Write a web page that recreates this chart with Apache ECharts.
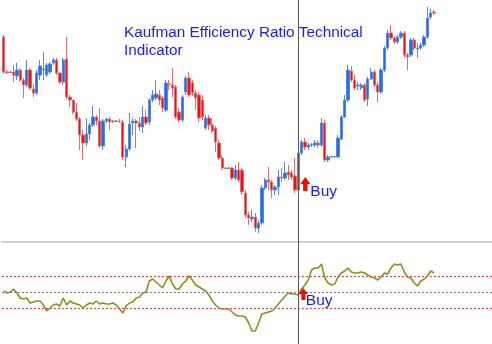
<!DOCTYPE html>
<html>
<head>
<meta charset="utf-8">
<script src="https://cdn.jsdelivr.net/npm/echarts@6/dist/echarts.min.js"></script>
<style>
  html, body { margin: 0; padding: 0; background: #fff; }
  #chart { width: 492px; height: 344px; }
</style>
</head>
<body>
<div id="chart"></div>
<script>
// K线数据 [open, close, low, high]
const candles = [
  [213,178,176,215],[178,177.5,176,180],[177.5,178,177,179],[178,175,168,185],[174,180,170,187],
  [180,170,168,182],[170,165,152,172],[165,180,163,190],[180,162,160,182],[161,157,153,166],
  [157,177,155,180],[175,184,170,190],[180,181,170,198],[175,185,173,187],[178,186,176,188],
  [187,190,185,192],[190,177,175,192],[177,168,166,178],[168,190,165,192],[191,153,151,213],
  [153,150,143,155],[150,138,136,150],[138,131,129,147],[131,115,100,133],[115,107,90,120],
  [107,116,104,132],[116,125,110,127],[125,133,123,144],[133,129,125,135],[129,104,102,142],
  [104,129,100,131],[129,131,127,132],[131,128,120,133],[129,128.5,127,130],[128.5,129,128,130],
  [129,128.8,127,131],[128,93,90,130],[93,101,83,105],[101,126,99,137],[127,129,115,132],
  [129,127,102,131],[127,123,119,133],[123,133,117,144],[133,127,125,140],[128,150,125,152],
  [150,155,148,160],[152,156,150,170],[155,150,145,160],[152,142,138,154],[140,167,138,170],
  [166,165.5,160,170],[165,162,153,182],[163,133,131,165],[138,130,128,142],[130,153,128,155],
  [158,172,155,174],[172,155,153,178],[167,157,154,170],[157,152,140,160],[155,132,128,158],
  [150,133,130,155],[122,132,120,135],[132,125,120,135],[125,119,117,132],[122,108,98,124],
  [107,92,90,110],[92,82,80,95],[82,81.5,81,83],[81.5,82,81,83],[82,72,70,83],
  [72,80,70,85],[80,70,68,88],[80,58,55,82],[57,35,32,60],[35,32,25,38],
  [31,33,28,40],[33,22,18,37],[22,27,17,30],[27,62,25,65],[62,70,60,72],
  [70,68,60,83],[68,60,52,70],[60,63,55,65],[63,73,55,80],[73,72,68,82],
  [72,77,70,88],[78,75,70,85],[77,73,70,80],[74,60,57,92],[60,97,45,100],
  [97,108,95,110],[108,103,100,112],[103,105,100,107],[105,105.5,103,107],[105,107,103,110],
  [107,105,102,110],[105,127,103,132],[127,90,88,130],[90,93,88,95],[93,93.5,92,94],
  [93.5,93,92,94],[93,112,92,115],[111,133,110,135],[133,150,132,155],[150,180,148,185],
  [179,170,168,184],[170,162,160,175],[164,165,160,168],[162,165,160,167],[165,150,148,167],
  [151,171,144,173],[171,178,170,182],[178,165,163,180],[165,158,148,168],[158,180,156,182],
  [180,202,178,204],[202,217,200,220],[217,212,210,225],[212,208,206,214],[208,213,206,215],
  [213,217,211,219],[217,195,193,219],[195,193,180,197],[195,210,193,212],[210,202,200,212],
  [201,202,192,207],[202,205,200,207],[205,213,203,215],[213,232,211,243],[233,237,231,241],
  [238,237,235,240]
];

// Kaufman 指标线
const erValues = [
  0.02,-0.02,0,0.06,-0.02,-0.12,-0.14,-0.12,-0.22,-0.20,
  -0.18,-0.18,-0.26,-0.38,-0.32,-0.26,-0.24,-0.28,-0.12,-0.26,
  -0.18,-0.22,-0.24,-0.26,-0.32,-0.26,-0.22,-0.24,-0.18,-0.24,
  -0.22,-0.24,-0.24,-0.22,-0.26,-0.34,-0.42,-0.28,-0.22,-0.20,
  -0.12,-0.10,-0.02,0,0.22,0.26,0.20,0.14,0.08,0.22,
  0.32,0.16,0.06,0.06,0.16,0.22,0.32,0.24,0.14,0.10,
  0.06,0.02,-0.06,-0.18,-0.26,-0.32,-0.34,-0.34,-0.34,-0.40,
  -0.46,-0.48,-0.48,-0.50,-0.62,-0.78,-0.78,-0.62,-0.44,-0.42,
  -0.40,-0.38,-0.32,-0.24,-0.16,-0.08,-0.02,-0.04,-0.04,-0.06,
  0.06,0.14,0.24,0.44,0.48,0.48,0.56,0.28,0.18,0.14,
  0.16,0.30,0.38,0.42,0.48,0.40,0.38,0.38,0.40,0.38,
  0.34,0.30,0.28,0.24,0.30,0.38,0.36,0.48,0.56,0.54,
  0.56,0.40,0.30,0.28,0.18,0.12,0.22,0.26,0.32,0.42,
  0.38
];

// 水平参考线
const levels = [0.32, 0, -0.32];
const buyBar = 89;
const totalBars = 148;

const bars = [];
for (let i = 0; i < totalBars; i++) bars.push(i < candles.length ? String(i + 1) : '');

const arrow = 'path://M5,0 L10,7 L7.2,7 L7.2,14 L2.8,14 L2.8,7 L0,7 Z';
const blue = '#1a1aff';
const font = 'Liberation Sans, Arial';

const chart = echarts.init(document.getElementById('chart'));
chart.setOption({
  animation: false,
  backgroundColor: '#fff',
  title: {
    text: 'Kaufman Efficiency Ratio Technical\nIndicator',
    left: 124,
    top: 24,
    padding: 0,
    textStyle: { color: blue, fontSize: 15.3, fontWeight: 'normal', fontFamily: font, lineHeight: 18 }
  },
  grid: [
    { left: 2, right: 0, top: 0, height: 242 },
    { left: 2, right: 0, top: 242, height: 102 }
  ],
  xAxis: [
    {
      type: 'category', gridIndex: 0, data: bars,
      axisLine: { show: true, lineStyle: { color: '#cfcfcf', width: 2 } },
      axisTick: { show: false }, axisLabel: { show: false }
    },
    {
      type: 'category', gridIndex: 1, data: bars,
      axisLine: { show: false }, axisTick: { show: false }, axisLabel: { show: false }
    }
  ],
  yAxis: [
    { type: 'value', gridIndex: 0, min: 8, max: 250, show: false, splitLine: { show: false } },
    { type: 'value', gridIndex: 1, min: -1.04, max: 1.0, show: false, splitLine: { show: false } }
  ],
  series: [
    {
      type: 'candlestick',
      xAxisIndex: 0, yAxisIndex: 0,
      data: candles,
      barWidth: 2.8,
      itemStyle: { color: '#1c6ef2', color0: '#f01010', borderColor: '#5a86e0', borderColor0: '#e86a6a', borderWidth: 1 },
      markLine: {
        silent: true, symbol: 'none', label: { show: false },
        lineStyle: { color: '#555', width: 1, type: 'solid' },
        data: [{ xAxis: buyBar }]
      },
      markPoint: {
        silent: true,
        data: [{
          coord: [buyBar, 66], symbol: arrow, symbolSize: [10, 14], symbolOffset: [7, 0],
          itemStyle: { color: '#ff0000' },
          label: { show: true, position: 'right', distance: 0, offset: [0, 8], formatter: 'Buy', color: blue, fontSize: 15.5, fontFamily: font }
        }]
      }
    },
    {
      type: 'line',
      xAxisIndex: 1, yAxisIndex: 1,
      data: erValues,
      symbol: 'none',
      lineStyle: { color: '#8f8f14', width: 1.6 },
      markLine: {
        silent: true, symbol: 'none', label: { show: false },
        data: [
          { yAxis: levels[0], lineStyle: { color: '#e84848', width: 1, type: [2, 2] } },
          { yAxis: levels[1], lineStyle: { color: '#7a7a90', width: 1, type: [2, 2] } },
          { yAxis: levels[2], lineStyle: { color: '#e84848', width: 1, type: [2, 2] } },
          { xAxis: buyBar, lineStyle: { color: '#555', width: 1, type: 'solid' } }
        ]
      },
      markPoint: {
        silent: true,
        data: [{
          coord: [buyBar, -0.04], symbol: arrow, symbolSize: [9, 12], symbolOffset: [5, 0],
          itemStyle: { color: '#ff0000' },
          label: { show: true, position: 'right', distance: 0, offset: [-2, 7], formatter: 'Buy', color: blue, fontSize: 15.5, fontFamily: font }
        }]
      }
    }
  ]
});
</script>
</body>
</html>
